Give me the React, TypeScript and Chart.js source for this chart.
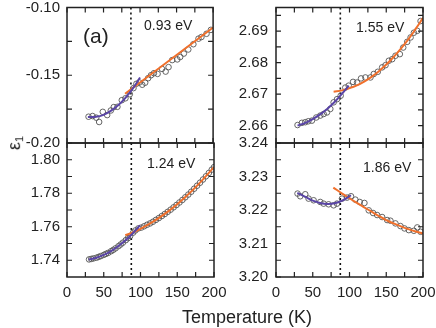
import React, { useEffect, useRef } from "react";
import { Chart, registerables } from "chart.js";
Chart.register(...registerables);

const FONT = "'Liberation Sans', Arial, Helvetica, sans-serif";
const BLUE = "#5a45a6";
const ORANGE = "#f0702c";
const INK = "#222";
const T_C = 87.5;

const X_TICKS = [0, 25, 50, 75, 100, 125, 150, 175, 200];
const X_LABELS = [0, 50, 100, 150, 200];

// ---- 0.93 eV ----
const T_093 = [29.5, 35, 40, 44, 49, 55, 60, 64, 69, 75, 80, 86, 91, 95, 99, 103, 107, 111, 115, 119, 124, 130, 135, 139, 144, 151, 155, 160, 166, 173, 180, 184, 191, 197];
const E_093 = [-0.1806, -0.1801, -0.1813, -0.1845, -0.177, -0.1794, -0.176, -0.1735, -0.1733, -0.1684, -0.167, -0.164, -0.1595, -0.1563, -0.1553, -0.157, -0.1555, -0.1522, -0.15, -0.1485, -0.149, -0.1453, -0.1473, -0.144, -0.1388, -0.1383, -0.1365, -0.134, -0.131, -0.1271, -0.123, -0.1218, -0.1194, -0.1165];
const FIT_LOW_T_093 = [28.6, 40, 50, 60, 70, 80, 90, 100];
const FIT_LOW_E_093 = [-0.1808, -0.1807, -0.1792, -0.1763, -0.1722, -0.1667, -0.1599, -0.1517];
const FIT_HIGH_T_093 = [79.5, 100, 120, 140, 160, 180, 200];
const FIT_HIGH_E_093 = [-0.1636, -0.1553, -0.1472, -0.1391, -0.131, -0.1229, -0.1148];
const Y_TICKS_093 = [-0.2, -0.175, -0.15, -0.125, -0.1];
const Y_LABELS_093 = [-0.2, -0.15, -0.1];

// ---- 1.55 eV ----
const T_155 = [29.3, 35.2, 39.8, 44, 48.9, 54.8, 60.2, 64.8, 69.3, 73.9, 78.4, 83, 88, 94.3, 98.9, 104.8, 110.3, 115.7, 121.6, 128.5, 133, 138.5, 144.4, 149, 153.5, 158.1, 162.6, 168.5, 173.1, 178.5, 183.1, 187.6, 192.2, 196.7];
const E_155 = [2.6602, 2.6609, 2.6611, 2.6614, 2.6616, 2.6626, 2.6632, 2.6637, 2.6642, 2.6653, 2.6674, 2.6684, 2.6695, 2.6721, 2.6727, 2.6739, 2.6737, 2.675, 2.6753, 2.6753, 2.6764, 2.6771, 2.6785, 2.6792, 2.6806, 2.6811, 2.6822, 2.6827, 2.6848, 2.6866, 2.688, 2.6895, 2.6901, 2.6932];
const FIT_LOW_T_155 = [29.3, 40, 50, 60, 70, 80, 90, 99];
const FIT_LOW_E_155 = [2.66, 2.6609, 2.6621, 2.6636, 2.6654, 2.6676, 2.6702, 2.6727];
const FIT_HIGH_T_155 = [78.4, 90, 100, 110, 120, 130, 140, 150, 160, 170, 180, 190, 200];
const FIT_HIGH_E_155 = [2.6708, 2.6712, 2.6719, 2.6728, 2.674, 2.6755, 2.6773, 2.6794, 2.6818, 2.6845, 2.6874, 2.6907, 2.6942];
const Y_TICKS_155 = [2.66, 2.665, 2.67, 2.675, 2.68, 2.685, 2.69, 2.695];
const Y_LABELS_155 = [2.66, 2.67, 2.68, 2.69];

// ---- 1.24 eV ----
const T_124 = [30, 33, 36, 40, 43, 46, 50, 53, 56, 60, 63, 66, 70, 73, 76, 80, 83, 86, 90, 93, 97, 101, 105, 109, 113, 117, 121, 125, 129, 133, 137, 141, 145, 149, 153, 157, 161, 165, 169, 173, 177, 181, 185, 189, 193, 197, 200];
const E_124 = [1.7405, 1.7408, 1.7411, 1.7415, 1.742, 1.7425, 1.7432, 1.7438, 1.7444, 1.7454, 1.7462, 1.7471, 1.7484, 1.7494, 1.7505, 1.752, 1.7532, 1.7545, 1.7565, 1.7578, 1.759, 1.7595, 1.7603, 1.7612, 1.762, 1.763, 1.7641, 1.7652, 1.7664, 1.7676, 1.7689, 1.7702, 1.7716, 1.773, 1.7745, 1.776, 1.7776, 1.7792, 1.7809, 1.7827, 1.7845, 1.7863, 1.7882, 1.7901, 1.7921, 1.7941, 1.7956];
const FIT_LOW_T_124 = [29.5, 40, 50, 60, 70, 80, 88, 99.3];
const FIT_LOW_E_124 = [1.7404, 1.7415, 1.7432, 1.7455, 1.7485, 1.7521, 1.7554, 1.7608];
const FIT_HIGH_T_124 = [79.3, 90, 100, 120, 140, 160, 180, 200];
const FIT_HIGH_E_124 = [1.7549, 1.7567, 1.7588, 1.7638, 1.7699, 1.7773, 1.7859, 1.7956];
const Y_TICKS_124 = [1.74, 1.75, 1.76, 1.77, 1.78, 1.79, 1.8];
const Y_LABELS_124 = [1.74, 1.76, 1.78, 1.8];

// ---- 1.86 eV ----
const T_186 = [29.3, 33, 39.8, 44.3, 51.2, 60.2, 64.8, 71.6, 78.4, 83, 89.8, 96.6, 102.1, 108, 113.9, 120.3, 126.2, 132.1, 137.6, 144.4, 151.2, 155.7, 162.5, 169.3, 174.8, 180.7, 187.6, 192.2, 196.7];
const E_186 = [3.2249, 3.2241, 3.2247, 3.2234, 3.2229, 3.2224, 3.2219, 3.2217, 3.2214, 3.2219, 3.2234, 3.2237, 3.2241, 3.2231, 3.2224, 3.2221, 3.2199, 3.2191, 3.2185, 3.2179, 3.217, 3.2168, 3.216, 3.2152, 3.2145, 3.214, 3.2138, 3.2148, 3.2135];
const FIT_LOW_T_186 = [29, 40, 50, 60, 70, 80, 90, 102];
const FIT_LOW_E_186 = [3.2251, 3.2239, 3.2228, 3.2221, 3.2218, 3.222, 3.2228, 3.2244];
const FIT_HIGH_T_186 = [78, 90, 100, 110, 120, 130, 140, 150, 160, 170, 180, 190, 200];
const FIT_HIGH_E_186 = [3.2267, 3.2249, 3.2235, 3.2221, 3.2208, 3.2195, 3.2182, 3.217, 3.216, 3.2151, 3.2143, 3.2136, 3.213];
const Y_TICKS_186 = [3.2, 3.205, 3.21, 3.215, 3.22, 3.225, 3.23, 3.235, 3.24];
const Y_LABELS_186 = [3.2, 3.21, 3.22, 3.23, 3.24];

const pts = (xs: number[], ys: number[]) => xs.map((x, i) => ({ x, y: ys[i] }));
const has = (list: number[], v: number) => list.some((l) => Math.abs(l - v) < 1e-9);

type PanelCfg = {
  left: number; top: number; w: number; h: number;
  yw: number; pr: number; pt: number; pb: number; xh: number; showX: boolean;
  yMin: number; yMax: number; yTicks: number[]; yLabels: number[];
  t: number[]; e: number[]; lowT: number[]; lowE: number[]; highT: number[]; highE: number[];
};

const PANELS: PanelCfg[] = [
  { left: 0, top: 0, w: 218, h: 150, yw: 67, pr: 4, pt: 7.5, pb: 7, xh: 0, showX: false,
    yMin: -0.2, yMax: -0.1, yTicks: Y_TICKS_093, yLabels: Y_LABELS_093,
    t: T_093, e: E_093, lowT: FIT_LOW_T_093, lowE: FIT_LOW_E_093, highT: FIT_HIGH_T_093, highE: FIT_HIGH_E_093 },
  { left: 218, top: 0, w: 218, h: 150, yw: 58, pr: 13, pt: 7.5, pb: 7, xh: 0, showX: false,
    yMin: 2.6545, yMax: 2.6975, yTicks: Y_TICKS_155, yLabels: Y_LABELS_155,
    t: T_155, e: E_155, lowT: FIT_LOW_T_155, lowE: FIT_LOW_E_155, highT: FIT_HIGH_T_155, highE: FIT_HIGH_E_155 },
  { left: 0, top: 136, w: 236, h: 192, yw: 67, pr: 22, pt: 7, pb: 0, xh: 51, showX: true,
    yMin: 1.73, yMax: 1.81, yTicks: Y_TICKS_124, yLabels: Y_LABELS_124,
    t: T_124, e: E_124, lowT: FIT_LOW_T_124, lowE: FIT_LOW_E_124, highT: FIT_HIGH_T_124, highE: FIT_HIGH_E_124 },
  { left: 218, top: 136, w: 218, h: 192, yw: 58, pr: 13, pt: 7, pb: 0, xh: 51, showX: true,
    yMin: 3.2, yMax: 3.24, yTicks: Y_TICKS_186, yLabels: Y_LABELS_186,
    t: T_186, e: E_186, lowT: FIT_LOW_T_186, lowE: FIT_LOW_E_186, highT: FIT_HIGH_T_186, highE: FIT_HIGH_E_186 },
];

function Panel({ cfg }: { cfg: PanelCfg }) {
  const ref = useRef<HTMLCanvasElement>(null);
  useEffect(() => {
    const framePlugin = {
      id: "frame",
      beforeDatasetsDraw(chart: any) {
        const { ctx, chartArea: a } = chart;
        const px = chart.scales.x.getPixelForValue(T_C);
        ctx.save();
        ctx.strokeStyle = "#111";
        ctx.lineWidth = 1.6;
        ctx.setLineDash([2, 3]);
        ctx.beginPath();
        ctx.moveTo(px, a.top);
        ctx.lineTo(px, a.bottom);
        ctx.stroke();
        ctx.restore();
      },
      afterDatasetsDraw(chart: any) {
        const { ctx, chartArea: a } = chart;
        const xs = chart.scales.x, ys = chart.scales.y;
        const L = 5;
        ctx.save();
        ctx.strokeStyle = INK;
        ctx.lineWidth = 1.2;
        ctx.beginPath();
        for (const v of X_TICKS) {
          const p = xs.getPixelForValue(v);
          ctx.moveTo(p, a.top); ctx.lineTo(p, a.top + L);
          ctx.moveTo(p, a.bottom); ctx.lineTo(p, a.bottom - L);
        }
        for (const v of cfg.yTicks) {
          const p = ys.getPixelForValue(v);
          ctx.moveTo(a.left, p); ctx.lineTo(a.left + L, p);
          ctx.moveTo(a.right, p); ctx.lineTo(a.right - L, p);
        }
        ctx.stroke();
        ctx.lineWidth = 1.5;
        ctx.strokeRect(a.left, a.top, a.right - a.left, a.bottom - a.top);
        ctx.restore();
      },
    };
    const chart = new Chart(ref.current!, {
      type: "scatter",
      data: {
        datasets: [
          { data: pts(cfg.lowT, cfg.lowE), showLine: true, borderColor: BLUE, borderWidth: 2, pointRadius: 0, tension: 0.4, fill: false } as any,
          { data: pts(cfg.highT, cfg.highE), showLine: true, borderColor: ORANGE, borderWidth: 2, pointRadius: 0, tension: 0.4, fill: false } as any,
          { data: pts(cfg.t, cfg.e), showLine: false, pointRadius: 2.8, pointBorderWidth: 0.9, pointBorderColor: "#555", pointBackgroundColor: "rgba(255,255,255,0)" } as any,
        ],
      },
      options: {
        animation: false,
        responsive: false,
        events: [],
        layout: { padding: { left: 0, right: cfg.pr, top: cfg.pt, bottom: cfg.pb } },
        plugins: { legend: { display: false }, tooltip: { enabled: false } },
        scales: {
          x: {
            type: "linear", min: 0, max: 200, display: cfg.showX,
            grid: { display: false, drawTicks: false },
            border: { display: false },
            afterBuildTicks: (s: any) => { s.ticks = X_TICKS.map((v) => ({ value: v })); },
            afterFit: (s: any) => { s.height = cfg.xh; s.paddingLeft = 0; s.paddingRight = 0; s.paddingTop = 0; s.paddingBottom = 0; },
            ticks: {
              autoSkip: false, maxRotation: 0, padding: 7, color: INK,
              font: { family: FONT, size: 15 },
              callback: (v: any) => (has(X_LABELS, Number(v)) ? String(v) : ""),
            },
          },
          y: {
            type: "linear", min: cfg.yMin, max: cfg.yMax,
            grid: { display: false, drawTicks: false },
            border: { display: false },
            afterBuildTicks: (s: any) => { s.ticks = cfg.yTicks.map((v) => ({ value: v })); },
            afterFit: (s: any) => { s.width = cfg.yw; s.paddingTop = 0; s.paddingBottom = 0; s.paddingLeft = 0; s.paddingRight = 0; },
            ticks: {
              autoSkip: false, padding: cfg.yw === 67 ? 7 : 8, color: INK,
              font: { family: FONT, size: 15 },
              callback: (v: any) => (has(cfg.yLabels, Number(v)) ? Number(v).toFixed(2) : ""),
            },
          },
        },
      } as any,
      plugins: [framePlugin],
    });
    return () => chart.destroy();
  }, []);
  return (
    <canvas
      ref={ref}
      width={cfg.w}
      height={cfg.h}
      style={{ position: "absolute", left: cfg.left, top: cfg.top, width: cfg.w, height: cfg.h }}
    />
  );
}

const txt = (left: number, top: number, size: number): React.CSSProperties => ({
  position: "absolute", left, top, fontSize: size, lineHeight: 1, whiteSpace: "nowrap",
});

export default function App() {
  useEffect(() => {
    document.body.style.margin = "0";
  }, []);
  return (
    <div style={{ position: "absolute", left: 0, top: 0, width: 436, height: 328, background: "#fff", fontFamily: FONT, color: INK, overflow: "hidden" }}>
      {PANELS.map((p, i) => <Panel key={i} cfg={p} />)}
      <div style={txt(83, 25, 21)}>(a)</div>
      <div style={txt(144, 18, 14)}>0.93 eV</div>
      <div style={txt(356, 20, 14)}>1.55 eV</div>
      <div style={txt(147, 156, 14)}>1.24 eV</div>
      <div style={txt(363, 160, 14)}>1.86 eV</div>
      <div style={{ ...txt(247, 308, 18), transform: "translateX(-50%)" }}>Temperature (K)</div>
      <div style={{ ...txt(15, 143, 18), transform: "translate(-50%,-50%) rotate(-90deg)" }}>
        ε<sub style={{ fontSize: 11, verticalAlign: "-0.25em" }}>1</sub>
      </div>
    </div>
  );
}
